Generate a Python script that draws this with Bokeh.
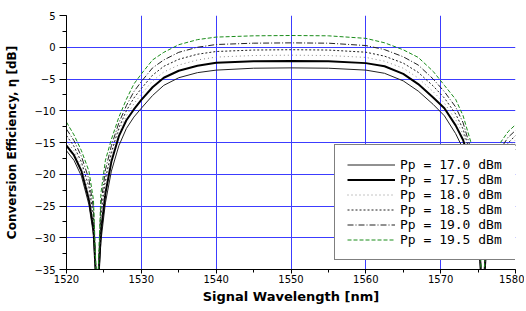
from bokeh.plotting import figure
from bokeh.models import Range1d, Legend, LegendItem, SingleIntervalTicker
from bokeh.embed import file_html
from bokeh.resources import INLINE

# Signal wavelength [nm]
wavelength = [1520, 1521, 1522, 1523, 1523.6, 1524.1, 1524.6, 1525.2, 1526, 1527, 1528,
              1529, 1530, 1531.5, 1533, 1535, 1537.5, 1540, 1545, 1550, 1555, 1560,
              1562.5, 1565, 1567, 1569, 1570.5, 1572, 1573, 1574, 1574.8, 1575.6,
              1576.4, 1577, 1578, 1579, 1580]

# Conversion efficiency [dB] for each pump power
pp_170 = [-16.3, -17.8, -20.3, -24.8, -29.5, -40, -30.5, -24.5, -19.5, -15.5, -12.8,
          -11.0, -9.6, -7.6, -6.0, -4.8, -4.0, -3.6, -3.3, -3.25, -3.3, -3.6,
          -4.1, -5.3, -6.9, -9.0, -10.8, -13.6, -16.0, -19.5, -24.5, -40,
          -27.0, -23.0, -19.3, -17.3, -16.1]
pp_175 = [-15.5, -17.0, -19.5, -24.0, -28.5, -40, -29.0, -23.0, -18.0, -14.0, -11.5,
          -9.8, -8.3, -6.3, -4.8, -3.7, -2.9, -2.45, -2.2, -2.15, -2.2, -2.5,
          -3.0, -4.2, -5.8, -7.9, -9.6, -12.3, -14.6, -18.5, -24.0, -40,
          -26.0, -22.0, -18.5, -16.5, -15.3]
pp_180 = [-14.7, -16.3, -18.8, -23.0, -27.5, -40, -27.6, -21.8, -17.2, -13.3, -10.8,
          -8.9, -7.4, -5.3, -3.9, -2.8, -2.0, -1.55, -1.3, -1.25, -1.3, -1.6,
          -2.2, -3.3, -4.85, -7.0, -8.8, -11.4, -13.7, -17.7, -23.1, -40,
          -25.3, -21.2, -17.7, -15.8, -14.6]
pp_185 = [-13.9, -15.6, -18.1, -22.0, -26.5, -40, -26.4, -20.7, -16.5, -12.7, -10.0,
          -8.0, -6.5, -4.4, -3.0, -1.9, -1.1, -0.67, -0.44, -0.39, -0.44, -0.78,
          -1.4, -2.5, -3.95, -6.1, -8.0, -10.5, -12.9, -16.9, -22.2, -40,
          -24.7, -20.5, -17.0, -15.1, -13.9]
pp_190 = [-12.9, -14.7, -17.2, -20.8, -25.3, -40, -24.7, -19.3, -15.5, -11.9, -9.2,
          -7.0, -5.4, -3.25, -2.0, -0.8, 0.0, 0.43, 0.64, 0.69, 0.64, 0.27,
          -0.37, -1.5, -2.8, -5.0, -7.0, -9.4, -11.9, -15.9, -21.2, -40,
          -23.9, -19.5, -16.0, -14.2, -13.1]
pp_195 = [-11.8, -13.8, -16.3, -19.5, -24.0, -40, -23.0, -17.8, -14.5, -11.0, -8.2,
          -5.8, -4.2, -2.0, -0.8, 0.4, 1.2, 1.6, 1.8, 1.85, 1.8, 1.4,
          0.7, -0.4, -1.6, -3.8, -6.0, -8.2, -10.8, -14.8, -20.0, -40,
          -23.0, -18.5, -15.0, -13.3, -12.2]

labels = ["Pp = 17.0 dBm", "Pp = 17.5 dBm", "Pp = 18.0 dBm",
          "Pp = 18.5 dBm", "Pp = 19.0 dBm", "Pp = 19.5 dBm"]
series = [pp_170, pp_175, pp_180, pp_185, pp_190, pp_195]

styles = [
    dict(line_color="#222222", line_width=1, line_dash="solid"),
    dict(line_color="black", line_width=2, line_dash="solid"),
    dict(line_color="#888888", line_width=1, line_dash="1 3"),
    dict(line_color="#222222", line_width=1, line_dash="2 2"),
    dict(line_color="#222222", line_width=1, line_dash="6 2 1 2"),
    dict(line_color="#1a8c1a", line_width=1, line_dash="4 2"),
]

p = figure(width=524, height=309, output_backend="svg", toolbar_location=None,
           x_range=Range1d(1520, 1580), y_range=Range1d(-35, 5),
           min_border_left=66, min_border_right=9, min_border_top=15,
           min_border_bottom=40, background_fill_color="white",
           border_fill_color="white")
p.outline_line_color = None

p.xaxis.ticker = SingleIntervalTicker(interval=10, num_minor_ticks=2)
p.yaxis.ticker = SingleIntervalTicker(interval=5, num_minor_ticks=2)

p.xgrid.grid_line_color = "#3c3cff"
p.ygrid.grid_line_color = "#3c3cff"
p.xgrid.grid_line_width = 1
p.ygrid.grid_line_width = 1

for ax in (p.xaxis, p.yaxis):
    ax.axis_line_color = "black"
    ax.major_tick_line_color = "black"
    ax.minor_tick_line_color = "black"
    ax.major_label_text_font = "DejaVu Sans"
    ax.major_label_text_font_size = "10px"
    ax.major_label_text_color = "black"
    ax.axis_label_text_font = "DejaVu Sans"
    ax.axis_label_text_font_style = "bold"
    ax.axis_label_text_color = "black"
    ax.major_tick_in = 0
    ax.minor_tick_in = 0

p.xaxis.major_tick_out = 4
p.xaxis.minor_tick_out = 3
p.xaxis.major_label_standoff = 1
p.xaxis.axis_label_standoff = 3
p.xaxis.axis_label_text_font_size = "13px"
p.xaxis.axis_label = "Signal Wavelength [nm]"

p.yaxis.major_tick_out = 7
p.yaxis.minor_tick_out = 4
p.yaxis.major_label_standoff = 4
p.yaxis.axis_label_standoff = 12
p.yaxis.axis_label_text_font_size = "12px"
p.yaxis.axis_label = "Conversion Efficiency, \u03b7 [dB]"

items = []
for lab, ys, st in zip(labels, series, styles):
    r = p.line(wavelength, ys, **st)
    items.append(LegendItem(label=lab, renderers=[r]))

legend = Legend(items=items, location=(268, 9))
legend.border_line_color = "black"
legend.border_line_width = 1
legend.background_fill_color = "white"
legend.background_fill_alpha = 1
legend.padding = 12
legend.spacing = 0
legend.margin = 0
legend.label_height = 15
legend.glyph_height = 15
legend.glyph_width = 48
legend.label_standoff = 5
legend.label_width = 130
legend.label_text_font = "DejaVu Sans Mono"
legend.label_text_font_size = "13px"
legend.label_text_color = "black"
p.add_layout(legend)

open("out.html", "w").write(file_html(p, INLINE))
